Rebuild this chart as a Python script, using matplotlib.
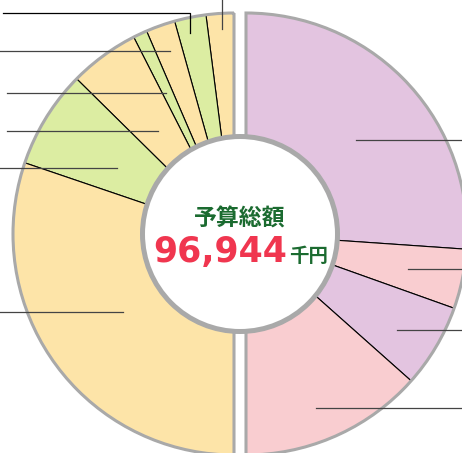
import matplotlib
matplotlib.use("Agg")
import matplotlib.pyplot as plt
from matplotlib.patches import Wedge, Circle
import numpy as np

# Data (thousand yen)
total_label = "96,944"
right_values = [50600, 8450, 11850, 26044]      # clockwise from top
right_colors = ["#E3C4E0", "#F9CDD0", "#E3C4E0", "#F9CDD0"]
left_values = [3930, 4470, 4150, 1990, 9910, 13900, 58594]  # counter-clockwise from top
left_colors = ["#FDE4A8", "#DCEDA2", "#FDE4A8", "#DCEDA2", "#FDE4A8", "#DCEDA2", "#FDE4A8"]

# Layout (pixel-like data units)
W, H = 462, 453
R = 221
cy = H - 234
right_c = (246, cy)
left_c = (234, cy)
hole_c = (240, cy)
hole_r = 97.5
right_leader_r = [145, 166, 179, 188]
right_leader_da = [-2.5, -0.4, -1.8, -2.2]
left_leader_r = [205, 206, 194, 156, 128, 134, 136]
left_leader_da = [-0.3, 0.9, -0.2, 0.6, 0.2, 2.3, -0.5]

fig = plt.figure(figsize=(W / 100, H / 100), dpi=100)
ax = fig.add_axes([0, 0, 1, 1])

wp = dict(edgecolor="black", linewidth=0.8)
rw, _ = ax.pie(right_values + [sum(right_values)], center=right_c, radius=R,
               startangle=90, counterclock=False,
               colors=right_colors + ["white"], wedgeprops=wp)
rw[-1].set_visible(False)
lw_, _ = ax.pie(left_values + [sum(left_values)], center=left_c, radius=R,
                startangle=90, counterclock=True,
                colors=left_colors + ["white"], wedgeprops=wp)
lw_[-1].set_visible(False)

gray = "#A9A9A9"
ax.add_patch(Wedge(right_c, R, -90, 90, facecolor="none", edgecolor=gray, linewidth=2.2, zorder=3))
ax.add_patch(Wedge(left_c, R, 90, 270, facecolor="none", edgecolor=gray, linewidth=2.2, zorder=3))

# leader lines
lc = "#444444"
def mid_angles(vals, start, sign):
    vals = np.asarray(vals, float)
    tot = sum(vals) * 2
    cum = np.concatenate([[0], np.cumsum(vals)])
    mids = (cum[:-1] + cum[1:]) / 2
    return start + sign * mids / tot * 360

ra = mid_angles(right_values, 90, -1)
for a, da, r in zip(ra, right_leader_da, right_leader_r):
    x0 = right_c[0] + r * np.cos(np.radians(a + da))
    y0 = right_c[1] + r * np.sin(np.radians(a + da))
    ax.plot([x0, W], [y0, y0], color=lc, lw=0.9, zorder=4)

la = mid_angles(left_values, 90, 1)
left_ends = [None, 3, 0, 7, 7, 0, 0]
for i, (a, da, r) in enumerate(zip(la, left_leader_da, left_leader_r)):
    x0 = left_c[0] + r * np.cos(np.radians(a + da))
    y0 = left_c[1] + r * np.sin(np.radians(a + da))
    if i == 0:
        ax.plot([x0, x0], [y0, H], color=lc, lw=0.9, zorder=4)
    elif i == 1:
        ytop = H - 13
        ax.plot([x0, x0, left_ends[i]], [y0, ytop, ytop], color="black", lw=0.9, zorder=4)
    else:
        ax.plot([x0, left_ends[i]], [y0, y0], color=lc, lw=0.9, zorder=4)

# centre hole
ax.add_patch(Circle(hole_c, hole_r, facecolor="white", edgecolor=gray, linewidth=3.6, zorder=5))

green = "#1B6B30"
red = "#F0364F"
ax.text(240, H - 219, "予算総額", ha="center", va="center", fontsize=16.5,
        fontweight="bold", color=green, family=["Noto Sans CJK JP", "DejaVu Sans"], zorder=6)
ax.text(287, H - 262, total_label, ha="right", va="baseline", fontsize=25,
        fontweight="bold", color=red, family="DejaVu Sans", zorder=6)
ax.text(289, H - 262, "千円", ha="left", va="baseline", fontsize=14,
        fontweight="bold", color=green, family=["Noto Sans CJK JP", "DejaVu Sans"], zorder=6)

ax.set_xlim(0, W)
ax.set_ylim(0, H)
ax.set_aspect("auto")
ax.axis("off")
fig.savefig("out.png", dpi=100)
